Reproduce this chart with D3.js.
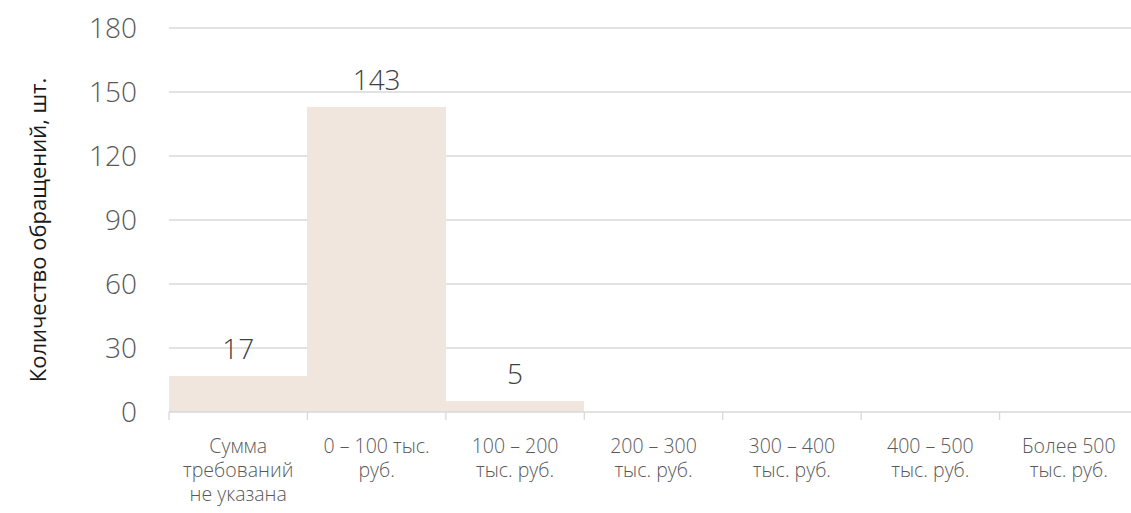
<!DOCTYPE html>
<html>
<head>
<meta charset="utf-8">
<script src="https://cdn.jsdelivr.net/npm/d3@7"></script>
<style>
body { margin: 0; background: #fff; }
text { font-family: "Open Sans", "Noto Sans", sans-serif; font-weight: 300; }
</style>
</head>
<body>
<div id="chart"></div>
<script>
var categories = [
	["Сумма", "требований", "не указана"],
	["0 – 100 тыс.", "руб."],
	["100 – 200", "тыс. руб."],
	["200 – 300", "тыс. руб."],
	["300 – 400", "тыс. руб."],
	["400 – 500", "тыс. руб."],
	["Более 500", "тыс. руб."]
];
var values = [17, 143, 5, 0, 0, 0, 0];
var yTicks = [0, 30, 60, 90, 120, 150, 180];
var yTitle = "Количество обращений, шт.";

var W = 1131, H = 513;
var plotLeft = 169, plotRight = 1138, plotTop = 28, plotBottom = 412;

var svg = d3.select("#chart").append("svg").attr("width", W).attr("height", H);

var x = d3.scaleBand().domain(d3.range(categories.length)).range([plotLeft, plotRight]).padding(0);
var y = d3.scaleLinear().domain([0, 180]).range([plotBottom, plotTop]);

// gridlines
svg.append("g").selectAll("line").data(yTicks.slice(1)).enter().append("line")
	.attr("x1", plotLeft).attr("x2", W)
	.attr("y1", function(d){ return y(d); }).attr("y2", function(d){ return y(d); })
	.attr("stroke", "#d9d9d9").attr("stroke-width", 1.3);

// tick labels
svg.append("g").selectAll("text").data(yTicks).enter().append("text")
	.attr("x", 137).attr("y", function(d){ return y(d) + 10; })
	.attr("text-anchor", "end").attr("font-size", 28).attr("fill", "#595959")
	.text(function(d){ return d; });

// bars
svg.append("g").attr("shape-rendering", "crispEdges").selectAll("rect").data(values).enter().append("rect")
	.attr("x", function(d, i){ return Math.round(x(i)); })
	.attr("width", function(d, i){ return Math.round(x(i) + x.bandwidth()) - Math.round(x(i)); })
	.attr("y", function(d){ return y(d); })
	.attr("height", function(d){ return plotBottom - y(d); })
	.attr("fill", "#f0e6de");

// value labels
svg.append("g").selectAll("text").data(values).enter().append("text")
	.attr("x", function(d, i){ return x(i) + x.bandwidth() / 2; })
	.attr("y", function(d){ return y(d) - 17; })
	.attr("text-anchor", "middle").attr("font-size", 28).attr("fill", "#404040")
	.text(function(d){ return d > 0 ? d : ""; });

// x axis line + ticks
svg.append("line").attr("x1", plotLeft).attr("x2", W).attr("y1", plotBottom).attr("y2", plotBottom)
	.attr("stroke", "#d9d9d9").attr("stroke-width", 1.3);
svg.append("g").selectAll("line").data(d3.range(categories.length)).enter().append("line")
	.attr("x1", function(i){ return x(i); }).attr("x2", function(i){ return x(i); })
	.attr("y1", plotBottom).attr("y2", plotBottom + 8)
	.attr("stroke", "#d9d9d9").attr("stroke-width", 1.3);

// category labels, one text per line
var lines = [];
categories.forEach(function(c, i){
	c.forEach(function(s, j){ lines.push({i: i, j: j, s: s}); });
});
svg.append("g").selectAll("text").data(lines).enter().append("text")
	.attr("x", function(d){ return x(d.i) + x.bandwidth() / 2; })
	.attr("y", function(d){ return 453 + d.j * 24; })
	.attr("text-anchor", "middle").attr("font-size", 19.5).attr("fill", "#595959")
	.text(function(d){ return d.s; });

// y title
svg.append("text")
	.attr("transform", "translate(46,230) rotate(-90)")
	.attr("text-anchor", "middle").attr("font-size", 22).attr("fill", "#1a1a1a")
	.style("font-weight", 400)
	.text(yTitle);
</script>
</body>
</html>
